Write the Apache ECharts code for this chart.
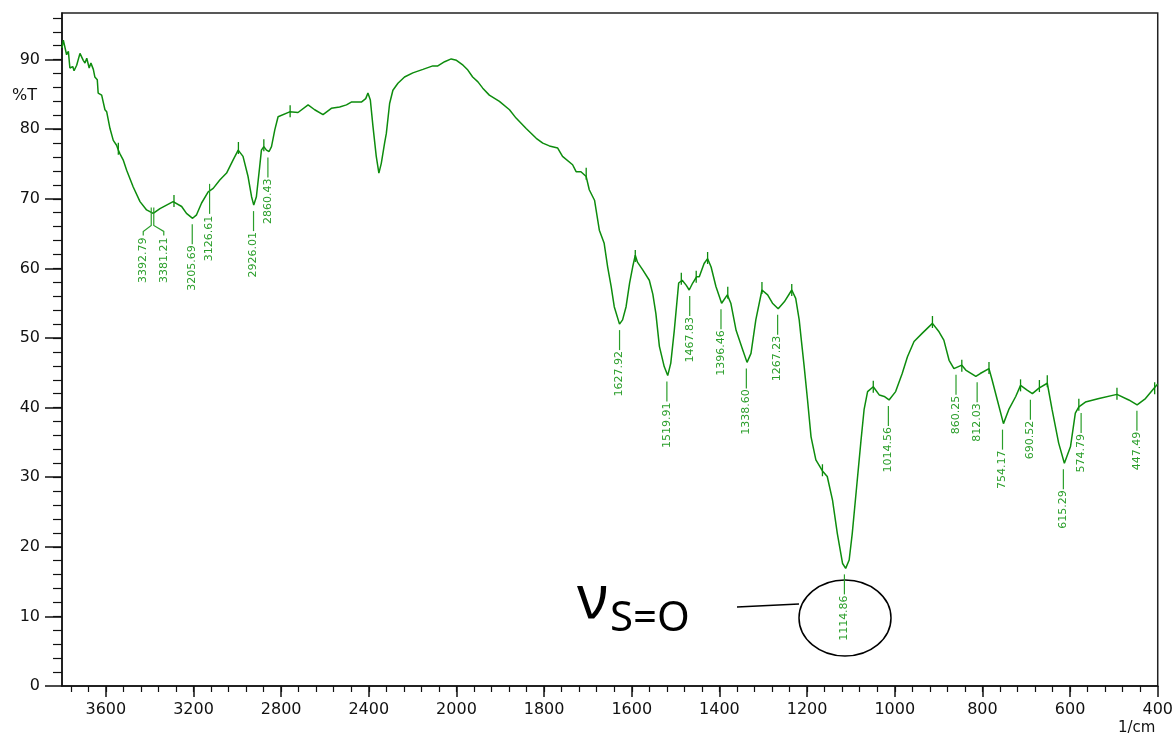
<!DOCTYPE html>
<html>
<head>
<meta charset="utf-8">
<title>FTIR</title>
<script src="https://cdn.jsdelivr.net/npm/echarts@6/dist/echarts.min.js"></script>
<style>
  html, body { margin: 0; padding: 0; background: #fff; }
  #chart { width: 1176px; height: 738px; }
</style>
</head>
<body>
<div id="chart"></div>
<script>
  // spectrum (1/cm, %T)
  const wavenumbers = [
    3800, 3794, 3788, 3779, 3771, 3764, 3751, 3745, 3733, 3718, 3703, 3695, 3687, 3676, 3668, 3657,
    3650, 3639, 3635, 3619, 3604, 3596, 3581, 3566, 3551, 3543, 3536, 3521, 3505, 3475, 3444, 3414,
    3384, 3353, 3323, 3293, 3254, 3232, 3204, 3186, 3163, 3133, 3110, 3080, 3049, 3019, 2996, 2974,
    2951, 2935, 2925, 2913, 2898, 2890, 2879, 2867, 2855, 2844, 2829, 2814, 2761, 2723, 2677, 2647,
    2609, 2571, 2533, 2502, 2480, 2434, 2414, 2404, 2393, 2381, 2366, 2354, 2343, 2328, 2320, 2305,
    2290, 2267, 2237, 2199, 2153, 2108, 2085, 2054, 2024, 2000,
    1985, 1974, 1963, 1951, 1940, 1925, 1902, 1879, 1864, 1841, 1818, 1803, 1788, 1769, 1758, 1735,
    1727, 1716, 1704, 1697, 1685, 1674, 1663, 1655, 1647, 1640, 1628, 1621, 1613, 1605, 1598, 1592,
    1587, 1575, 1560, 1552, 1545, 1537, 1526, 1518, 1511, 1503, 1493, 1485, 1476, 1469, 1461, 1452,
    1446, 1435, 1427, 1419, 1408, 1395, 1382, 1374, 1362, 1347, 1337, 1328, 1317, 1303, 1290, 1279,
    1266, 1252, 1235, 1226, 1218, 1214, 1207, 1199, 1191, 1180, 1165, 1154, 1142, 1131, 1119, 1112,
    1104, 1097, 1087, 1077, 1070, 1062, 1049, 1035, 1024, 1013, 998, 983, 971, 956, 937, 914,
    899, 888, 876, 865, 847, 838, 815, 805, 785, 778, 766, 752, 740, 724, 713, 698,
    686, 671, 652, 641, 626, 613, 599, 588, 580, 565, 534, 493, 466, 447, 428, 407, 400
  ]
  const transmittance = [
    91.7, 92.8, 92.6, 90.7, 91.2, 88.8, 89.0, 88.4, 89.2, 90.9, 89.9, 89.5, 90.2, 88.8, 89.5, 88.6,
    87.5, 87.1, 85.2, 84.9, 82.8, 82.5, 80.1, 78.4, 77.7, 77.0, 76.5, 75.6, 74.1, 71.7, 69.6, 68.4,
    67.9, 68.6, 69.1, 69.6, 68.9, 67.9, 67.2, 67.7, 69.4, 71.0, 71.5, 72.7, 73.7, 75.6, 77.0, 76.1,
    73.2, 70.3, 69.1, 70.3, 74.6, 77.0, 77.5, 77.0, 76.8, 77.5, 79.9, 81.8, 82.5, 82.4, 83.5, 82.8,
    82.1, 83.0, 83.2, 83.5, 83.9, 83.9, 84.4, 85.2, 84.2, 80.4, 76.1, 73.7, 75.1, 78.0, 79.4, 83.7,
    85.6, 86.6, 87.5, 88.1, 88.6, 89.1, 89.1, 89.7, 90.1, 89.9,
    89.2, 88.5, 87.5, 86.8, 85.9, 84.9, 84.0, 82.8, 81.6, 80.1, 78.7, 78.0, 77.6, 77.3, 76.1, 74.9,
    73.9, 73.9, 73.2, 71.3, 69.8, 65.5, 63.6, 60.2, 57.4, 54.5, 52.0, 52.6, 54.5, 57.9, 60.2, 61.9,
    60.9, 59.8, 58.3, 56.3, 53.5, 48.8, 45.9, 44.6, 46.4, 51.1, 57.9, 58.3, 57.6, 56.9, 57.9, 58.8,
    58.8, 60.7, 61.4, 60.2, 57.4, 55.0, 56.2, 55.0, 51.1, 48.3, 46.5, 47.8, 52.6, 56.9, 56.2, 55.0,
    54.2, 55.2, 56.9, 55.7, 52.6, 50.2, 46.1, 41.1, 35.8, 32.5, 30.9, 30.1, 26.7, 21.9, 17.6, 16.9,
    18.1, 21.9, 28.6, 35.3, 39.7, 42.3, 43.0, 41.8, 41.6, 41.1, 42.3, 44.9, 47.3, 49.5, 50.7, 52.1,
    50.9, 49.7, 46.8, 45.6, 46.1, 45.4, 44.5, 44.9, 45.6, 44.0, 41.1, 37.7, 39.7, 41.6, 43.2, 42.5,
    42.0, 42.8, 43.5, 39.7, 34.9, 32.0, 34.4, 39.2, 40.1, 40.8, 41.3, 41.9, 41.1, 40.4, 41.3, 42.9, 43.4
  ]

  // labelled minima and the %T of the curve where each one sits
  const peakLabels = [
    '3392.79', '3381.21', '3205.69', '3126.61', '2926.01', '2860.43', '1627.92', '1519.91',
    '1467.83', '1396.46', '1338.60', '1267.23', '1114.86', '1014.56', '860.25', '812.03',
    '754.17', '690.52', '615.29', '574.79', '447.49'
  ]
  const peakT = [
    67.9, 67.9, 67.2, 71.0, 69.1, 76.8, 52.0, 44.6,
    56.9, 55.0, 46.5, 54.2, 16.9, 41.1, 45.6, 44.5,
    37.7, 42.0, 32.0, 40.1, 40.4
  ]

  // small peak marks on the maxima
  const maxWavenumbers = [3543, 3289, 2995, 2879, 2759, 1704, 1592, 1487, 1453, 1427, 1381, 1303, 1235, 1165, 1049, 914, 847, 785, 713, 670, 652, 580, 493, 407]
  const maxT = [77.2, 69.7, 77.3, 77.7, 82.6, 73.6, 61.8, 58.5, 58.8, 61.5, 56.5, 57.2, 56.9, 31.0, 43.0, 52.3, 46.0, 45.7, 43.2, 43.1, 43.8, 40.4, 42.0, 42.8]

  // tick labels
  const xTickLabels = [3600, 3200, 2800, 2400, 2000, 1800, 1600, 1400, 1200, 1000, 800, 600, 400]
  const yTickLabels = [0, 10, 20, 30, 40, 50, 60, 70, 80, 90]

  // the axis is compressed by half above 2000 1/cm
  const toAxis = (w) => (w > 2000 ? 2000 + (w - 2000) / 2 : w)
  const fromAxis = (u) => (u > 2000 ? 2000 + (u - 2000) * 2 : u)

  const xMinor = []
  for (let u = 440; u < 2900; u += 40) xMinor.push(u)
  const yMinor = []
  for (let v = 2; v < 97; v += 2) yMinor.push(v)

  const curveColor = '#0d8c0d'
  const labelColor = '#2a9e2a'
  const leaderShift = { '3392.79': -8, '3381.21': 10 }
  const leaderThrough = ['3392.79', '3381.21', '3126.61']

  const chart = echarts.init(document.getElementById('chart'))

  const axisText = { color: '#111', fontFamily: 'DejaVu Sans', fontSize: 16 }

  chart.setOption({
    animation: false,
    grid: {
      left: 62, right: 17, top: 13, bottom: 52,
      show: true, borderColor: '#222', borderWidth: 1.5, backgroundColor: 'transparent'
    },
    xAxis: [
      {
        type: 'value', inverse: true, min: 400, max: 2900,
        axisLine: { lineStyle: { color: '#111', width: 1.5 } },
        axisTick: { length: 11, lineStyle: { color: '#111', width: 1.5 }, customValues: xTickLabels.map(toAxis) },
        axisLabel: Object.assign({ margin: 16, customValues: xTickLabels.map(toAxis), formatter: (u) => String(fromAxis(u)) }, axisText),
        splitLine: { show: false }
      },
      {
        type: 'value', inverse: true, min: 400, max: 2900, position: 'bottom',
        axisLine: { show: false },
        axisTick: { length: 6, lineStyle: { color: '#111', width: 1.2 }, customValues: xMinor },
        axisLabel: { show: false },
        splitLine: { show: false }
      }
    ],
    yAxis: [
      {
        type: 'value', min: 0, max: 96.7,
        axisLine: { show: true, lineStyle: { color: '#111', width: 1.5 } },
        axisTick: { show: true, length: 17, lineStyle: { color: '#111', width: 1.5 }, customValues: yTickLabels },
        axisLabel: Object.assign({ margin: 22, customValues: yTickLabels }, axisText),
        splitLine: { show: false }
      },
      {
        type: 'value', min: 0, max: 96.7, position: 'left',
        axisLine: { show: false },
        axisTick: { show: true, length: 9, lineStyle: { color: '#111', width: 1.2 }, customValues: yMinor },
        axisLabel: { show: false },
        splitLine: { show: false }
      }
    ],
    series: [
      {
        type: 'line',
        data: wavenumbers.map((w, i) => [toAxis(w), transmittance[i]]),
        showSymbol: false,
        lineStyle: { color: curveColor, width: 1.5 },
        z: 3
      },
      {
        type: 'custom',
        data: maxWavenumbers.map((w, i) => [toAxis(w), maxT[i]]),
        clip: false,
        z: 4,
        renderItem: (params, api) => {
          const p = api.coord([api.value(0), api.value(1)])
          return {
            type: 'line',
            shape: { x1: p[0], y1: p[1] - 6, x2: p[0], y2: p[1] + 6 },
            style: { stroke: curveColor, lineWidth: 1.3 }
          }
        }
      },
      {
        type: 'custom',
        data: peakLabels.map((s, i) => [toAxis(parseFloat(s)), peakT[i]]),
        clip: false,
        z: 5,
        renderItem: (params, api) => {
          const name = peakLabels[params.dataIndex]
          const p = api.coord([api.value(0), api.value(1)])
          const x = p[0]
          const y = p[1]
          const dx = leaderShift[name] || 0
          let points
          let textTop
          if (dx) {
            points = [[x, y - 6], [x, y + 12], [x + dx, y + 18], [x + dx, y + 22]]
            textTop = y + 24
          } else if (leaderThrough.includes(name)) {
            points = [[x, y - 8], [x, y + 22]]
            textTop = y + 24
          } else {
            points = [[x, y + 6], [x, y + 26]]
            textTop = y + 27
          }
          return {
            type: 'group',
            children: [
              {
                type: 'polyline',
                shape: { points },
                style: { stroke: labelColor, lineWidth: 1.2, fill: null }
              },
              {
                type: 'text',
                x: x + dx,
                y: textTop,
                rotation: Math.PI / 2,
                style: {
                  text: name,
                  fill: labelColor,
                  font: '11px "DejaVu Sans"',
                  align: 'right',
                  verticalAlign: 'middle'
                }
              }
            ]
          }
        }
      }
    ],
    graphic: [
      { type: 'text', left: 12, top: 88, style: { text: '%T', fill: '#111', font: '16px "DejaVu Sans"' } },
      { type: 'text', left: 1118, top: 721, style: { text: '1/cm', fill: '#111', font: '15px "DejaVu Sans"' } },
      { type: 'text', x: 577, y: 601, style: { text: 'ν', fill: '#000', font: '60px "Noto Sans"', verticalAlign: 'middle' } },
      { type: 'text', x: 610, y: 619, style: { text: 'S=O', fill: '#000', font: '42px "Noto Sans"', verticalAlign: 'middle' } },
      { type: 'line', shape: { x1: 737, y1: 607, x2: 799, y2: 604 }, style: { stroke: '#000', lineWidth: 1.5 } },
      { type: 'ellipse', shape: { cx: 845, cy: 618, rx: 46, ry: 38 }, style: { stroke: '#000', lineWidth: 1.5, fill: null } }
    ]
  })
</script>
</body>
</html>
